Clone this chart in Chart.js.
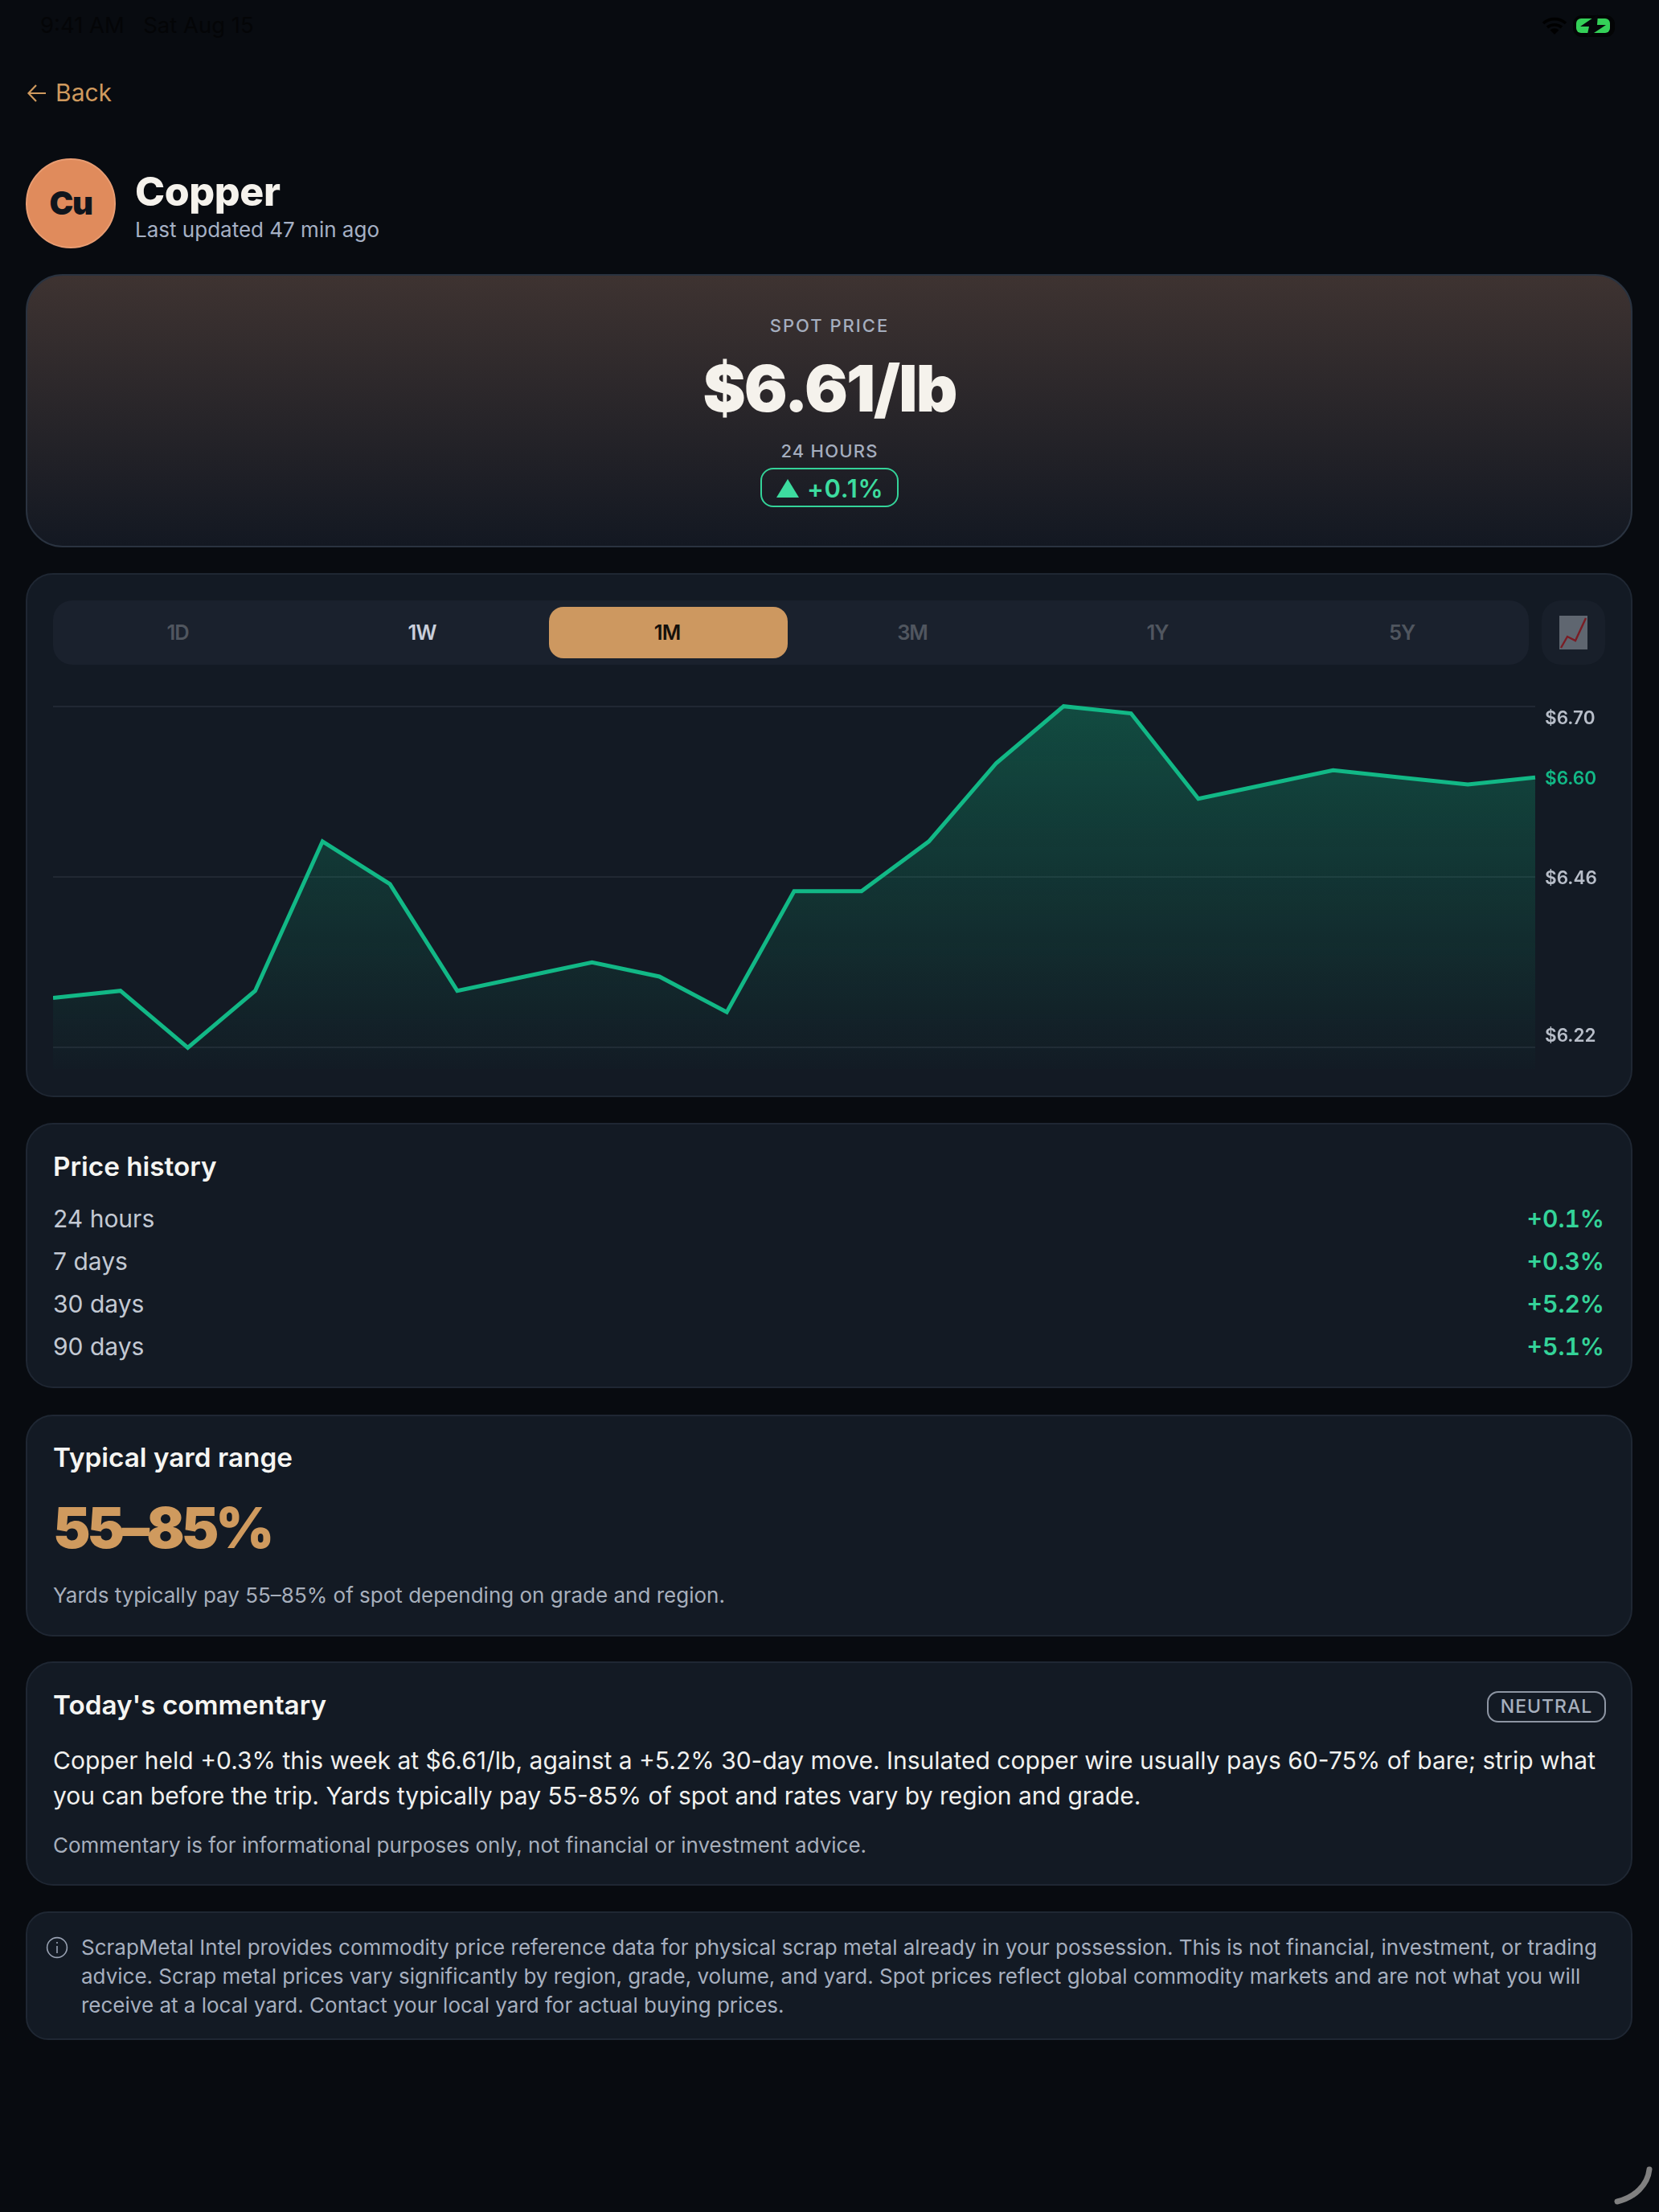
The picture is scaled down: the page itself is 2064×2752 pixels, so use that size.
<!DOCTYPE html>
<html><head><meta charset="utf-8">
<script src="https://cdn.jsdelivr.net/npm/chart.js@4/dist/chart.umd.min.js"></script>
<style>
html,body{margin:0;padding:0;background:#080b10;width:2064px;height:2752px;overflow:hidden;font-family:Inter,sans-serif;}
.t{position:absolute;line-height:1;white-space:nowrap;transform:translateY(-50%);}
.c{left:0;width:2064px;text-align:center;}
.r{right:68px;}
.card{position:absolute;left:32px;width:1995px;background:#131a24;border:2px solid #1f2733;border-radius:34px;box-sizing:content-box;}
.h{font-weight:600;font-size:33.3px;color:#f5f5f2;left:66px;}
.row{font-size:30px;color:#c3c9d3;left:66px;}
.pct{font-size:30px;font-weight:600;color:#34d399;font-variant-numeric:tabular-nums;}
.tab{position:absolute;top:787px;width:120px;text-align:center;font-size:25.5px;font-weight:600;line-height:1;transform:translateY(-50%);color:#50565f;letter-spacing:-1px;}
</style></head><body>

<div class="t" style="left:50px;top:32px;font-size:27.5px;color:#040507;">9:41 AM&nbsp;&nbsp;&nbsp;Sat Aug 15</div>
<svg style="position:absolute;left:1915px;top:18px" width="100" height="30" viewBox="0 0 100 30">
  <g fill="none" stroke="#000" stroke-width="3.6"><path d="M5 11 A21 21 0 0 1 33 11"/><path d="M10 16 A14 14 0 0 1 28 16"/></g>
  <path d="M19 25 L13.5 19.5 A8 8 0 0 1 24.5 19.5 Z" fill="#000"/>
  <rect x="42" y="1" width="52" height="27" rx="11" fill="#030405"/>
  <rect x="46" y="5" width="42" height="18" rx="6" fill="#34d058"/>
  <path d="M73 0 L51 15 H62 L59 29 L83 13 H72 Z" fill="#05070a"/>
</svg>

<svg style="position:absolute;left:33px;top:103px" width="28" height="26" viewBox="0 0 28 26" fill="none" stroke="#cf9a5e" stroke-width="2.2"><path d="M24 13 H3 M12 3 L2.5 13 L12 23"/></svg>
<div class="t" style="left:69px;top:115px;font-size:30px;color:#cf9a5e;">Back</div>

<div style="position:absolute;left:32px;top:197px;width:108px;height:108px;border:2px solid #e89c72;border-radius:50%;background:#e08b5c;"></div>
<div class="t" style="left:32px;width:112px;text-align:center;top:253px;font-size:40px;font-weight:900;color:#10151c;letter-spacing:-1.5px;">Cu</div>
<div class="t" style="left:168px;top:238px;font-size:50px;font-weight:800;color:#f5f2ec;letter-spacing:-.4px;">Copper</div>
<div class="t" style="left:168px;top:286px;font-size:26px;color:#a5b0c4;">Last updated 47 min ago</div>

<div style="position:absolute;left:32px;top:341px;width:1995px;height:336px;border:2px solid #2a3340;border-radius:46px;background:linear-gradient(#3e3331,#131822);"></div>
<div class="t c" style="top:405px;font-size:22px;font-weight:500;color:#a5aebf;letter-spacing:2px;">SPOT PRICE</div>
<div class="t c" style="top:483px;font-size:80px;font-weight:900;color:#f5f2ec;letter-spacing:-2px;">$6.61/lb</div>
<div class="t c" style="top:561px;font-size:22px;font-weight:500;color:#a5aebf;letter-spacing:1.2px;">24 HOURS</div>
<div style="position:absolute;left:946px;top:582px;width:168px;height:45px;border:2px solid #34d399;border-radius:16px;"></div>
<svg style="position:absolute;left:966px;top:596px" width="28" height="23"><path d="M14 0 L28 23 H0 Z" fill="#3ddc9f"/></svg>
<div class="t" style="left:1004px;top:607px;font-size:31px;font-weight:600;color:#3ddc9f;letter-spacing:.7px;">+0.1%</div>

<div class="card" style="top:713px;height:648px;"></div>
<div style="position:absolute;left:66px;top:747px;width:1836px;height:80px;background:#1a212d;border-radius:24px;"></div>
<div style="position:absolute;left:683px;top:755px;width:297px;height:64px;background:#cd9860;border-radius:18px;"></div>
<div class="tab" style="left:161px;">1D</div>
<div class="tab" style="left:465px;color:#c9cfdb;">1W</div>
<div class="tab" style="left:770px;color:#14100b;">1M</div>
<div class="tab" style="left:1075px;">3M</div>
<div class="tab" style="left:1380px;">1Y</div>
<div class="tab" style="left:1684px;">5Y</div>
<div style="position:absolute;left:1918px;top:747px;width:79px;height:80px;background:#181f2a;border-radius:24px;"></div>
<svg style="position:absolute;left:1940px;top:766px" width="35" height="42" viewBox="0 0 35 42"><rect width="35" height="42" fill="#5f6670"/><path d="M2 40 L10 26 L20 31 L33 3" fill="none" stroke="#7a1c24" stroke-width="2.4"/></svg>

<canvas id="chart" width="1944" height="469" style="position:absolute;left:66px;top:861px;width:1944px;height:469px;"></canvas>

<div class="card" style="top:1397px;height:326px;"></div>
<div class="t h" style="top:1452px;">Price history</div>
<div class="t row" style="top:1516px;">24 hours</div><div class="t pct r" style="top:1516px;">+0.1%</div>
<div class="t row" style="top:1569px;">7 days</div><div class="t pct r" style="top:1569px;">+0.3%</div>
<div class="t row" style="top:1622px;">30 days</div><div class="t pct r" style="top:1622px;">+5.2%</div>
<div class="t row" style="top:1675px;">90 days</div><div class="t pct r" style="top:1675px;">+5.1%</div>

<div class="card" style="top:1760px;height:272px;"></div>
<div class="t h" style="top:1814px;">Typical yard range</div>
<div class="t" style="left:66px;top:1901px;font-size:70px;font-weight:900;color:#cf9a5e;letter-spacing:-4px;">55–85%</div>
<div class="t" style="left:66px;top:1985px;font-size:26px;color:#a7afbc;">Yards typically pay 55–85% of spot depending on grade and region.</div>

<div class="card" style="top:2067px;height:275px;"></div>
<div class="t h" style="top:2122px;">Today's commentary</div>
<div style="position:absolute;left:1850px;top:2104px;width:144px;height:35px;border:2px solid #8d95a3;border-radius:14px;"></div>
<div class="t" style="left:1850px;width:148px;text-align:center;top:2123px;font-size:23px;font-weight:500;color:#a6afbd;letter-spacing:1px;">NEUTRAL</div>
<div class="t" style="left:66px;top:2190px;font-size:30px;color:#f0f0ee;">Copper held +0.3% this week at $6.61/lb, against a +5.2% 30-day move. Insulated copper wire usually pays 60-75% of bare; strip what</div>
<div class="t" style="left:66px;top:2234px;font-size:30px;color:#f0f0ee;">you can before the trip. Yards typically pay 55-85% of spot and rates vary by region and grade.</div>
<div class="t" style="left:66px;top:2296px;font-size:26px;color:#a7afbc;">Commentary is for informational purposes only, not financial or investment advice.</div>

<div class="card" style="top:2378px;height:156px;border-radius:28px;"></div>
<svg style="position:absolute;left:57px;top:2409px" width="28" height="28" viewBox="0 0 28 28" fill="none" stroke="#98a1b2" stroke-width="1.6"><circle cx="14" cy="14" r="12.4"/><path d="M14 12 V21 M14 7 V9"/></svg>
<div class="t" style="left:101px;top:2423px;font-size:26px;color:#a6afbf;">ScrapMetal Intel provides commodity price reference data for physical scrap metal already in your possession. This is not financial, investment, or trading</div>
<div class="t" style="left:101px;top:2459px;font-size:26px;color:#a6afbf;">advice. Scrap metal prices vary significantly by region, grade, volume, and yard. Spot prices reflect global commodity markets and are not what you will</div>
<div class="t" style="left:101px;top:2495px;font-size:26px;color:#a6afbf;">receive at a local yard. Contact your local yard for actual buying prices.</div>

<svg style="position:absolute;left:2004px;top:2692px" width="56" height="54" fill="none" stroke="#808080" stroke-width="7" stroke-linecap="round"><path d="M48 7 C46 26 30 42 8 47"/></svg>

<script>
const days = ['1','2','3','4','5','6','7','8','9','10','11','12','13','14','15','16','17','18','19','20','21','22','23'];
const prices = [6.29,6.30,6.22,6.30,6.51,6.45,6.30,6.32,6.34,6.32,6.27,6.44,6.44,6.51,6.62,6.70,6.69,6.57,6.59,6.61,6.60,6.59,6.60];
const axisTicks = [6.22,6.46,6.60,6.70];
const gridTicks = [6.22,6.46,6.70];
const lastPrice = 6.60;

const labelNudge = {
  id:'labelNudge',
  beforeDraw(chart){
    const y = chart.scales.y;
    y.getLabelItems().forEach((item,i)=>{
      const v = y.ticks[i].value;
      if(item.nudged) return;
      item.nudged = true;
      item.options.translation[0]-=1;
      item.options.translation[1]+=2;
      if(v===6.70) item.options.translation[1]+=14;
      if(v===6.22) item.options.translation[1]-=16;
    });
  }
};

new Chart(document.getElementById('chart'),{
  type:'line',
  data:{labels:days,datasets:[{
    data:prices,
    borderColor:'#12b886',
    borderWidth:5,
    borderJoinStyle:'miter',
    pointRadius:0,
    tension:0,
    fill:'start',
    clip:false,
    backgroundColor(ctx){
      const a = ctx.chart.chartArea;
      if(!a) return 'transparent';
      const g = ctx.chart.ctx.createLinearGradient(0,a.top,0,a.bottom);
      g.addColorStop(0,'rgba(16,185,129,0.32)');
      g.addColorStop(1,'rgba(16,185,129,0.01)');
      return g;
    }
  }]},
  options:{
    responsive:false,
    devicePixelRatio:1,
    animation:false,
    layout:{padding:0},
    plugins:{legend:{display:false},tooltip:{enabled:false}},
    scales:{
      x:{display:false,offset:false},
      y:{
        position:'right',
        min:6.19,max:6.72,
        afterBuildTicks(s){s.ticks=axisTicks.map(value=>({value}));},
        afterFit(s){s.width=100;s.paddingTop=0;s.paddingBottom=0;},
        border:{display:false},
        grid:{
          drawTicks:false,
          lineWidth:2,
          color:c=>gridTicks.includes(c.tick&&c.tick.value)?'#212833':'transparent'
        },
        ticks:{
          autoSkip:false,
          padding:13,
          align:'center',
          crossAlign:'near',
          font:{family:'Inter',size:22.5,weight:'600'},
          color:c=>c.tick.value===lastPrice?'#12b886':'#b8bec9',
          callback:v=>'$'+Number(v).toFixed(2)
        }
      }
    }
  },
  plugins:[labelNudge]
});
</script>
</body></html>
